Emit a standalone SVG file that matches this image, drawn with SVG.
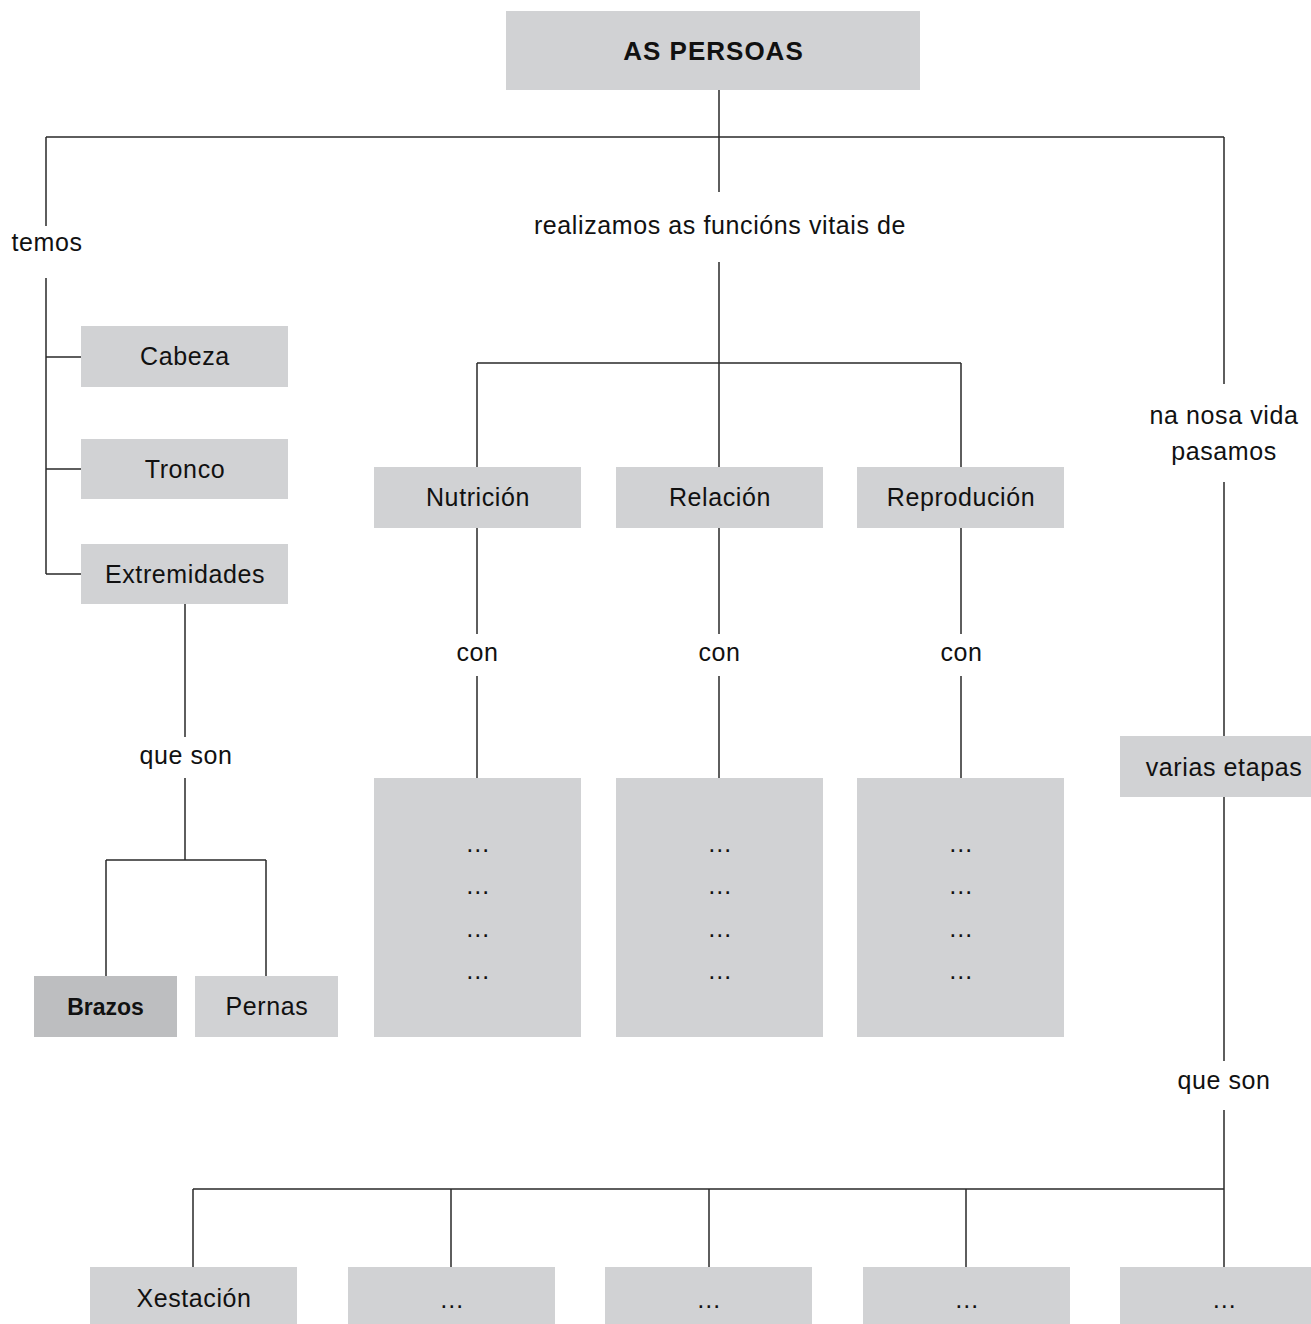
<svg xmlns="http://www.w3.org/2000/svg" width="1311" height="1324" viewBox="0 0 1311 1324">
<style>
.box{fill:#d1d2d4}
.dark{fill:#bdbec0}
.t{font-family:"Liberation Sans",Arial,sans-serif;font-size:25px;letter-spacing:0.6px;fill:#111;text-anchor:middle}
.b{font-weight:bold}
.root{font-size:26px;letter-spacing:1px}
.bz{font-size:23px;letter-spacing:0}
.ln{stroke:#2a2a2a;stroke-width:1.5;fill:none}
</style>
<rect width="1311" height="1324" fill="#fff"/>
<g id="connectors" class="ln">
<path d="M719 90V192M719 262V467M46 137H1224M46 137V226M46 278V574M46 357H81M46 469H81M46 574H81"/>
<path d="M1224 137V384M1224 482V736M1224 797V1061M1224 1110V1267"/>
<path d="M477 363H961M477 363V467M961 363V467"/>
<path d="M477 528V634M477 676V778M719 528V634M719 676V778M961 528V634M961 676V778"/>
<path d="M185 604V737M185 778V860M106 860H266M106 860V976M266 860V976"/>
<path d="M193 1189H1224M193 1189V1267M451 1189V1267M709 1189V1267M966 1189V1267"/>
</g>
<g id="n-root"><rect class="box" x="506" y="11" width="414" height="79"/><text class="t b root" x="713.5" y="60">AS PERSOAS</text></g>
<g id="l-temos"><text class="t" x="47" y="251">temos</text></g>
<g id="l-realizamos"><text class="t" x="720" y="234">realizamos as funcións vitais de</text></g>
<g id="l-vida"><text class="t" x="1224" y="424">na nosa vida</text><text class="t" x="1224" y="460">pasamos</text></g>
<g id="n-cabeza"><rect class="box" x="81" y="326" width="207" height="61"/><text class="t" x="185" y="365">Cabeza</text></g>
<g id="n-tronco"><rect class="box" x="81" y="439" width="207" height="60"/><text class="t" x="185" y="478">Tronco</text></g>
<g id="n-extremidades"><rect class="box" x="81" y="544" width="207" height="60"/><text class="t" x="185" y="583">Extremidades</text></g>
<g id="l-queson1"><text class="t" x="186" y="764">que son</text></g>
<g id="n-brazos"><rect class="dark" x="34" y="976" width="143" height="61"/><text class="t b bz" x="105.5" y="1015">Brazos</text></g>
<g id="n-pernas"><rect class="box" x="195" y="976" width="143" height="61"/><text class="t" x="267" y="1015">Pernas</text></g>
<g id="n-nutricion"><rect class="box" x="374" y="467" width="207" height="61"/><text class="t" x="478" y="506">Nutrición</text></g>
<g id="n-relacion"><rect class="box" x="616" y="467" width="207" height="61"/><text class="t" x="720" y="506">Relación</text></g>
<g id="n-reproducion"><rect class="box" x="857" y="467" width="207" height="61"/><text class="t" x="961" y="506">Reprodución</text></g>
<g id="l-con1"><text class="t" x="477.5" y="661">con</text></g>
<g id="l-con2"><text class="t" x="719.5" y="661">con</text></g>
<g id="l-con3"><text class="t" x="961.5" y="661">con</text></g>
<g id="n-list1"><rect class="box" x="374" y="778" width="207" height="259"/><text class="t" x="478" y="852">…</text><text class="t" x="478" y="894">…</text><text class="t" x="478" y="937">…</text><text class="t" x="478" y="979">…</text></g>
<g id="n-list2"><rect class="box" x="616" y="778" width="207" height="259"/><text class="t" x="720" y="852">…</text><text class="t" x="720" y="894">…</text><text class="t" x="720" y="937">…</text><text class="t" x="720" y="979">…</text></g>
<g id="n-list3"><rect class="box" x="857" y="778" width="207" height="259"/><text class="t" x="961" y="852">…</text><text class="t" x="961" y="894">…</text><text class="t" x="961" y="937">…</text><text class="t" x="961" y="979">…</text></g>
<g id="n-etapas"><rect class="box" x="1120" y="736" width="191" height="61"/><text class="t" x="1224" y="776">varias etapas</text></g>
<g id="l-queson2"><text class="t" x="1224" y="1089">que son</text></g>
<g id="n-xestacion"><rect class="box" x="90" y="1267" width="207" height="57"/><text class="t" x="194" y="1307">Xestación</text></g>
<g id="n-e2"><rect class="box" x="348" y="1267" width="207" height="57"/><text class="t" x="452" y="1308">…</text></g>
<g id="n-e3"><rect class="box" x="605" y="1267" width="207" height="57"/><text class="t" x="709" y="1308">…</text></g>
<g id="n-e4"><rect class="box" x="863" y="1267" width="207" height="57"/><text class="t" x="967" y="1308">…</text></g>
<g id="n-e5"><rect class="box" x="1120" y="1267" width="191" height="57"/><text class="t" x="1224.5" y="1308">…</text></g>
</svg>
